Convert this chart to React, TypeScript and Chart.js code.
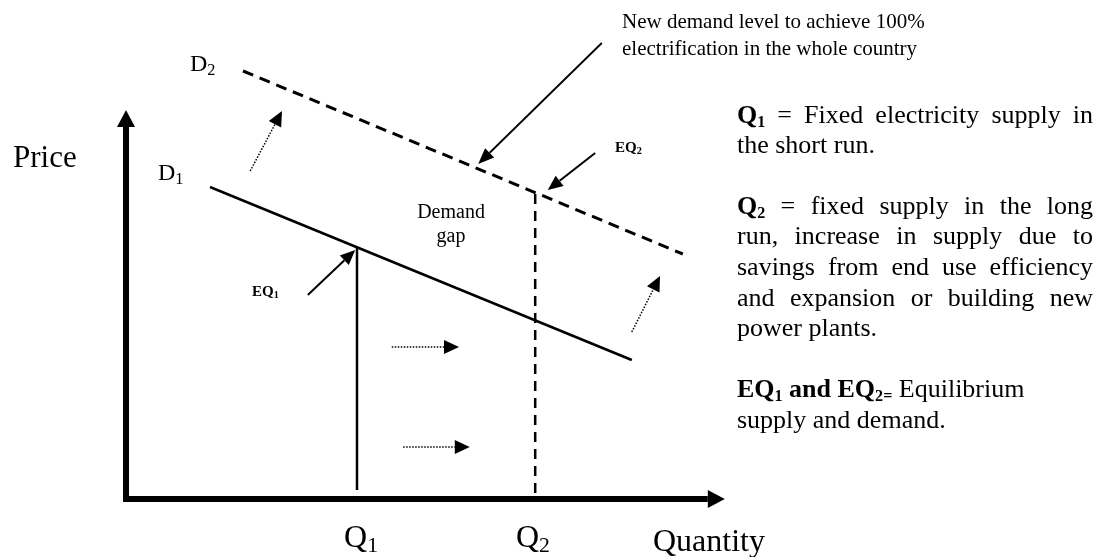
import React, { useEffect, useRef } from "react";
import { Chart, registerables } from "chart.js";

Chart.register(...registerables);

// ---------- data (conceptual units: quantity on x, price on y) ----------
const quantityAxisExtent = [-0.05, 9.98];
const priceAxisExtent = [-0.06, 7.78];

const demandD1 = [
  { x: 1.4, y: 6.24 },
  { x: 8.43, y: 2.78 },
];
const demandD2 = [
  { x: 1.95, y: 8.56 },
  { x: 9.28, y: 4.9 },
];

const supplyQ1 = 3.85;
const supplyQ2 = 6.82;
const equilibriumPrice1 = 5.03;
const equilibriumPrice2 = 6.14;
const supplyLineFoot = [0.18, 0.12];

const arrowEQ1 = [
  { x: 3.03, y: 4.08 },
  { x: 3.82, y: 4.98 },
];
const arrowEQ2 = [
  { x: 7.82, y: 6.92 },
  { x: 7.03, y: 6.18 },
];
const arrowNewDemand = [
  { x: 7.93, y: 9.12 },
  { x: 5.87, y: 6.7 },
];
const shiftUpLeft = [
  { x: 2.07, y: 6.56 },
  { x: 2.6, y: 7.76 },
];
const shiftUpRight = [
  { x: 8.43, y: 3.34 },
  { x: 8.9, y: 4.46 },
];
const shiftRightUpper = [
  { x: 4.43, y: 3.04 },
  { x: 5.55, y: 3.04 },
];
const shiftRightLower = [
  { x: 4.62, y: 1.04 },
  { x: 5.73, y: 1.04 },
];

// ---------- text ----------
type Run = { t: string; b?: boolean; sub?: boolean };

const topNoteLines = [
  "New demand level to achieve 100%",
  "electrification in the whole country",
];

const noteLines: { tokens: Run[][]; justify: boolean }[] = [
  {
    tokens: [
      [{ t: "Q", b: true }, { t: "1", b: true, sub: true }],
      [{ t: "=" }],
      [{ t: "Fixed" }],
      [{ t: "electricity" }],
      [{ t: "supply" }],
      [{ t: "in" }],
    ],
    justify: true,
  },
  { tokens: [[{ t: "the" }], [{ t: "short" }], [{ t: "run." }]], justify: false },
  {
    tokens: [
      [{ t: "Q", b: true }, { t: "2", b: true, sub: true }],
      [{ t: "=" }],
      [{ t: "fixed" }],
      [{ t: "supply" }],
      [{ t: "in" }],
      [{ t: "the" }],
      [{ t: "long" }],
    ],
    justify: true,
  },
  {
    tokens: ["run,", "increase", "in", "supply", "due", "to"].map((w) => [{ t: w }]),
    justify: true,
  },
  {
    tokens: ["savings", "from", "end", "use", "efficiency"].map((w) => [{ t: w }]),
    justify: true,
  },
  {
    tokens: ["and", "expansion", "or", "building", "new"].map((w) => [{ t: w }]),
    justify: true,
  },
  { tokens: [[{ t: "power" }], [{ t: "plants." }]], justify: false },
  {
    tokens: [
      [{ t: "EQ", b: true }, { t: "1", b: true, sub: true }],
      [{ t: "and", b: true }],
      [{ t: "EQ", b: true }, { t: "2=", b: true, sub: true }],
      [{ t: "Equilibrium" }],
    ],
    justify: false,
  },
  { tokens: [[{ t: "supply" }], [{ t: "and" }], [{ t: "demand." }]], justify: false },
];

// ---------- layout / style (kept apart from the data) ----------
const FONT = "'Liberation Serif', 'Times New Roman', Times, serif";
const W = 1105;
const H = 557;

const chartLabels: {
  runs: Run[];
  x: number;
  y: number;
  size: number;
  align: "left" | "center";
}[] = [
  { runs: [{ t: "Price" }], x: -1.883, y: 6.64, size: 31, align: "left" },
  { runs: [{ t: "D" }, { t: "2", sub: true }], x: 1.067, y: 8.56, size: 24, align: "left" },
  { runs: [{ t: "D" }, { t: "1", sub: true }], x: 0.533, y: 6.38, size: 24, align: "left" },
  { runs: [{ t: "Q" }, { t: "1", sub: true }], x: 3.917, y: -0.96, size: 32, align: "center" },
  { runs: [{ t: "Q" }, { t: "2", sub: true }], x: 6.783, y: -0.96, size: 32, align: "center" },
  { runs: [{ t: "Quantity" }], x: 8.783, y: -1.04, size: 32, align: "left" },
  { runs: [{ t: "Demand" }], x: 5.417, y: 5.62, size: 20, align: "center" },
  { runs: [{ t: "gap" }], x: 5.417, y: 5.14, size: 20, align: "center" },
  { runs: [{ t: "EQ", b: true }, { t: "1", b: true, sub: true }], x: 2.1, y: 4.06, size: 15, align: "left" },
  { runs: [{ t: "EQ", b: true }, { t: "2", b: true, sub: true }], x: 8.15, y: 6.94, size: 15, align: "left" },
];

const topNotePos = { x: 8.267, y: [9.42, 8.88], size: 21 };
const notesPos = {
  left: 10.183,
  right: 16.117,
  size: 26,
  y: [7.52, 6.92, 5.7, 5.1, 4.48, 3.86, 3.26, 2.04, 1.42],
};

function fontFor(run: Run, size: number, subScale: number) {
  const s = run.sub ? size * subScale : size;
  return `${run.b ? "bold " : ""}${s}px ${FONT}`;
}
function runsWidth(ctx: CanvasRenderingContext2D, runs: Run[], size: number, subScale = 0.68) {
  let w = 0;
  for (const r of runs) {
    ctx.font = fontFor(r, size, subScale);
    w += ctx.measureText(r.t).width;
  }
  return w;
}
function drawRuns(
  ctx: CanvasRenderingContext2D,
  runs: Run[],
  x: number,
  y: number,
  size: number,
  subScale = 0.68
) {
  let cx = x;
  for (const r of runs) {
    ctx.font = fontFor(r, size, subScale);
    ctx.fillText(r.t, cx, y + (r.sub ? size * 0.16 : 0));
    cx += ctx.measureText(r.t).width;
  }
}

function arrowGeom(meta: any, arrow: { len: number; width: number }) {
  const pts = meta.data;
  const n = pts.length;
  const tip = { x: pts[n - 1].x, y: pts[n - 1].y };
  const prev = { x: pts[n - 2].x, y: pts[n - 2].y };
  const dx = tip.x - prev.x;
  const dy = tip.y - prev.y;
  const L = Math.hypot(dx, dy) || 1;
  const ux = dx / L;
  const uy = dy / L;
  const px = -uy;
  const py = ux;
  const base = { x: tip.x - ux * arrow.len, y: tip.y - uy * arrow.len };
  return { tip, base, ux, uy, px, py };
}

const arrowPlugin = {
  id: "arrowHeads",
  beforeDatasetDraw(chart: any, args: any) {
    const ds = chart.data.datasets[args.index];
    if (!ds.arrow) return;
    const g = arrowGeom(args.meta, ds.arrow);
    const ctx = chart.ctx as CanvasRenderingContext2D;
    const K = 4000;
    ctx.save();
    ctx.beginPath();
    ctx.moveTo(g.base.x + g.px * K, g.base.y + g.py * K);
    ctx.lineTo(g.base.x - g.px * K, g.base.y - g.py * K);
    ctx.lineTo(g.base.x - g.px * K - g.ux * K, g.base.y - g.py * K - g.uy * K);
    ctx.lineTo(g.base.x + g.px * K - g.ux * K, g.base.y + g.py * K - g.uy * K);
    ctx.closePath();
    ctx.clip();
  },
  afterDatasetDraw(chart: any, args: any) {
    const ds = chart.data.datasets[args.index];
    if (!ds.arrow) return;
    const ctx = chart.ctx as CanvasRenderingContext2D;
    ctx.restore();
    const g = arrowGeom(args.meta, ds.arrow);
    const hw = ds.arrow.width / 2;
    ctx.save();
    ctx.fillStyle = "#000";
    ctx.beginPath();
    ctx.moveTo(g.tip.x, g.tip.y);
    ctx.lineTo(g.base.x + g.px * hw, g.base.y + g.py * hw);
    ctx.lineTo(g.base.x - g.px * hw, g.base.y - g.py * hw);
    ctx.closePath();
    ctx.fill();
    ctx.restore();
  },
};

const textPlugin = {
  id: "diagramText",
  afterDraw(chart: any) {
    const ctx = chart.ctx as CanvasRenderingContext2D;
    const xs = chart.scales.x;
    const ys = chart.scales.y;
    ctx.save();
    ctx.fillStyle = "#000";
    ctx.textBaseline = "alphabetic";
    ctx.textAlign = "left";

    for (const lab of chartLabels) {
      const px = xs.getPixelForValue(lab.x);
      const py = ys.getPixelForValue(lab.y);
      const w = runsWidth(ctx, lab.runs, lab.size);
      const sx = lab.align === "center" ? px - w / 2 : px;
      drawRuns(ctx, lab.runs, sx, py, lab.size);
    }

    ctx.font = `${topNotePos.size}px ${FONT}`;
    topNoteLines.forEach((line, i) => {
      ctx.fillText(line, xs.getPixelForValue(topNotePos.x), ys.getPixelForValue(topNotePos.y[i]));
    });

    const left = xs.getPixelForValue(notesPos.left);
    const right = xs.getPixelForValue(notesPos.right);
    const size = notesPos.size;
    ctx.font = `${size}px ${FONT}`;
    const space = ctx.measureText(" ").width;
    noteLines.forEach((line, i) => {
      const py = ys.getPixelForValue(notesPos.y[i]);
      const widths = line.tokens.map((tk) => runsWidth(ctx, tk, size, 0.62));
      const total = widths.reduce((a, b) => a + b, 0);
      const gap =
        line.justify && line.tokens.length > 1
          ? (right - left - total) / (line.tokens.length - 1)
          : space;
      let cx = left;
      line.tokens.forEach((tk, j) => {
        drawRuns(ctx, tk, cx, py, size, 0.62);
        cx += widths[j] + gap;
      });
    });
    ctx.restore();
  },
};

function lineSet(data: { x: number; y: number }[], extra: any = {}) {
  return {
    data,
    showLine: true,
    pointRadius: 0,
    pointHoverRadius: 0,
    borderColor: "#000",
    backgroundColor: "#000",
    borderWidth: 2,
    fill: false,
    tension: 0,
    clip: false,
    ...extra,
  };
}

export default function App() {
  const canvasRef = useRef<HTMLCanvasElement | null>(null);

  useEffect(() => {
    if (!canvasRef.current) return;
    const dotted = { borderWidth: 1.5, borderDash: [1.5, 1.5], arrow: { len: 15, width: 14 } };
    const chart = new Chart(canvasRef.current, {
      type: "scatter",
      data: {
        datasets: [
          lineSet(
            [
              { x: quantityAxisExtent[0], y: 0 },
              { x: quantityAxisExtent[1], y: 0 },
            ],
            { borderWidth: 6, arrow: { len: 17, width: 18 } }
          ),
          lineSet(
            [
              { x: 0, y: priceAxisExtent[0] },
              { x: 0, y: priceAxisExtent[1] },
            ],
            { borderWidth: 6, arrow: { len: 17, width: 18 } }
          ),
          lineSet(demandD1, { borderWidth: 2.5 }),
          lineSet(demandD2, { borderWidth: 3, borderDash: [11, 7] }),
          lineSet(
            [
              { x: supplyQ1, y: supplyLineFoot[0] },
              { x: supplyQ1, y: equilibriumPrice1 },
            ],
            { borderWidth: 2.5 }
          ),
          lineSet(
            [
              { x: supplyQ2, y: supplyLineFoot[1] },
              { x: supplyQ2, y: equilibriumPrice2 },
            ],
            { borderWidth: 2.5, borderDash: [10, 7] }
          ),
          lineSet(arrowEQ1, { borderWidth: 2, arrow: { len: 15, width: 13 } }),
          lineSet(arrowEQ2, { borderWidth: 2, arrow: { len: 15, width: 13 } }),
          lineSet(arrowNewDemand, { borderWidth: 1.8, arrow: { len: 16, width: 13 } }),
          lineSet(shiftUpLeft, dotted),
          lineSet(shiftUpRight, dotted),
          lineSet(shiftRightUpper, dotted),
          lineSet(shiftRightLower, dotted),
        ] as any,
      },
      options: {
        responsive: false,
        animation: false,
        devicePixelRatio: 1,
        events: [],
        layout: { padding: { left: 126, right: 379, top: 99, bottom: 58 } },
        plugins: { legend: { display: false }, tooltip: { enabled: false } },
        scales: {
          x: { type: "linear", min: 0, max: 10, display: false },
          y: { type: "linear", min: 0, max: 8, display: false },
        },
      },
      plugins: [arrowPlugin, textPlugin],
    });
    return () => chart.destroy();
  }, []);

  return (
    <div
      style={{
        position: "fixed",
        left: 0,
        top: 0,
        width: W,
        height: H,
        background: "#fff",
      }}
    >
      <canvas ref={canvasRef} width={W} height={H} style={{ display: "block" }} />
    </div>
  );
}
